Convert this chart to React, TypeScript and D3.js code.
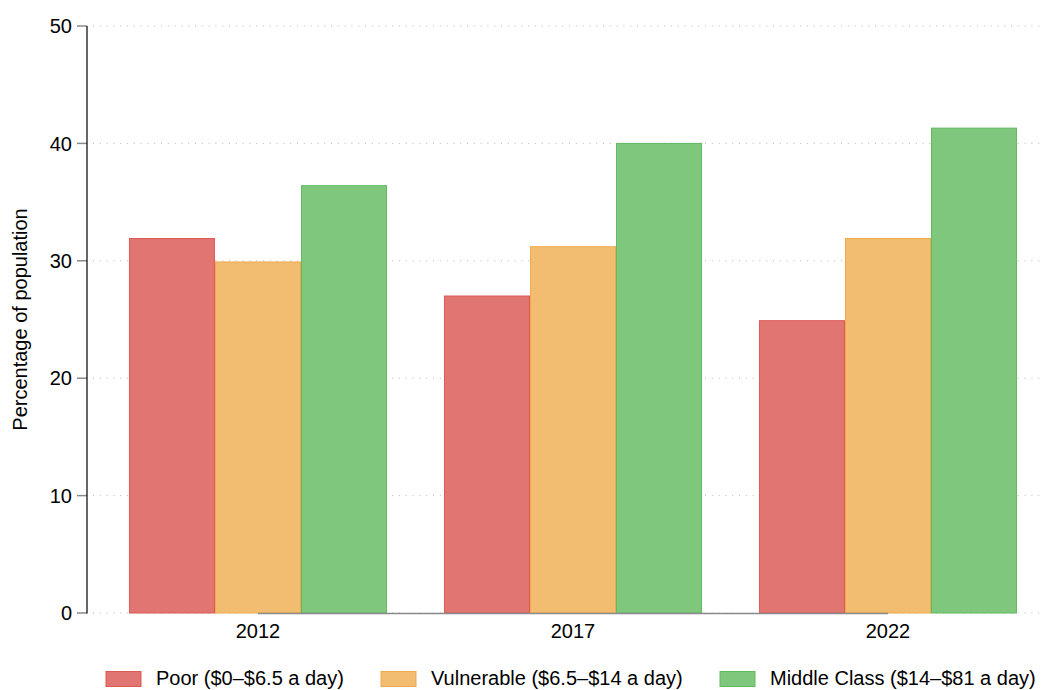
import React from "react";
import * as d3 from "d3";

const years = ["2012", "2017", "2022"];
const seriesNames = ["Poor ($0–$6.5 a day)", "Vulnerable ($6.5–$14 a day)", "Middle Class ($14–$81 a day)"];
const poor = [31.9, 27.0, 24.9];
const vulnerable = [29.9, 31.2, 31.9];
const middle = [36.4, 40.0, 41.3];
const yTicks = [0, 10, 20, 30, 40, 50];
const fills = ["#e07571", "#f2bd70", "#7fc77d"];
const strokes = ["#dc5a55", "#eeaa4e", "#62b960"];

const W = 1051, H = 690;
const left = 87, right = 1045, top = 26, bottom = 613;

export default function App() {
  const series = [poor, vulnerable, middle];
  const y = d3.scaleLinear().domain([0, 50]).range([bottom, top]);
  const x = d3.scaleBand().domain(years).range([100.5, 1045.5]).paddingInner(0).paddingOuter(0);
  const inner = d3.scaleBand().domain(["0", "1", "2"]).range([0, x.bandwidth()]).paddingOuter(0.331).paddingInner(0);
  const font = "Liberation Sans, Arial, sans-serif";
  const legendX = [106, 381, 720];
  return (
    <svg width={W} height={H} style={{ position: "absolute", left: 0, top: 0 }} fontFamily={font}>
      <rect width={W} height={H} fill="#fff" />
      {yTicks.map((t) => (
        <g key={t}>
          <line x1={left + 6} x2={right} y1={y(t)} y2={y(t)} stroke="#b8b8b8" strokeWidth={1} strokeDasharray="1 5.8" />
          <line x1={left - 10} x2={left} y1={y(t)} y2={y(t)} stroke="#8a8a8a" strokeWidth={1.5} />
          <text x={left - 15} y={y(t)} dy="0.36em" textAnchor="end" fontSize={20} fill="#000">{t}</text>
        </g>
      ))}
      {years.map((yr, i) =>
        series.map((s, j) => {
          const bx = (x(yr) as number) + (inner(String(j)) as number);
          return (
            <rect key={yr + j} x={bx + 0.5} y={y(s[i])} width={inner.bandwidth() - 1} height={bottom - y(s[i])}
              fill={fills[j]} stroke={strokes[j]} strokeWidth={1} />
          );
        })
      )}
      <line x1={(x(years[0]) as number) + x.bandwidth() / 2} x2={(x(years[2]) as number) + x.bandwidth() / 2}
        y1={bottom + 0.5} y2={bottom + 0.5} stroke="#8a8a8a" strokeWidth={1.5} />
      <line x1={left} x2={left} y1={top} y2={bottom + 0.5} stroke="#000" strokeWidth={1.2} />
      {years.map((yr) => (
        <text key={yr} x={(x(yr) as number) + x.bandwidth() / 2} y={638} textAnchor="middle" fontSize={20} fill="#000">{yr}</text>
      ))}
      <text transform={`translate(27,${(top + bottom) / 2}) rotate(-90)`} textAnchor="middle" fontSize={20} fill="#000">Percentage of population</text>
      {seriesNames.map((n, j) => (
        <g key={n}>
          <rect x={legendX[j]} y={671.5} width={35} height={15} fill={fills[j]} stroke={strokes[j]} strokeWidth={1} />
          <text x={legendX[j] + 50} y={685} fontSize={20} fill="#000">{n}</text>
        </g>
      ))}
    </svg>
  );
}
